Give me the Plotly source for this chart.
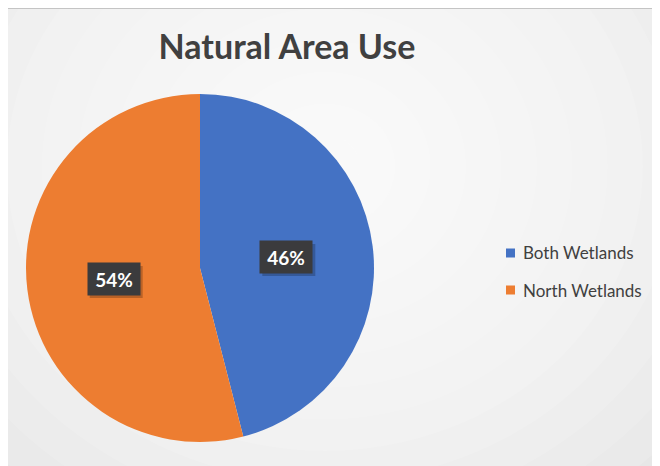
import math
import plotly.graph_objects as go

# Data
labels = ['Both Wetlands', 'North Wetlands']
values = [46, 54]
colors = ['#4472C4', '#ED7D31']
title_text = 'Natural Area Use'

W, H = 660, 466
OFF = 8  # page body margin, so page pixel p -> figure pixel p - OFF


def px(x):
    return (x - OFF) / W


def py(y):
    return 1 - (y - OFF) / H


cx, cy, r = 200, 268, 174  # pie centre / radius (page pixels)

fig = go.Figure()

fig.add_trace(go.Pie(
    labels=labels,
    values=values,
    sort=False,
    direction='clockwise',
    rotation=0,
    marker=dict(colors=colors, line=dict(width=0)),
    textinfo='none',
    hoverinfo='label+percent',
    showlegend=False,
    domain=dict(x=[px(cx - r), px(cx + r)], y=[py(cy + r), py(cy - r)]),
))

# background gradient: grey page with soft white glow in the middle
shapes = []
steps = 14
for i in range(steps):
    f = 1 - i / steps
    shapes.append(dict(
        type='circle', xref='paper', yref='paper', layer='below',
        x0=0.48 - 0.75 * f, x1=0.48 + 0.75 * f,
        y0=0.66 - 0.95 * f, y1=0.66 + 0.95 * f,
        fillcolor='rgba(255,255,255,0.13)', line=dict(width=0),
    ))
# frame lines
shapes.append(dict(type='line', xref='paper', yref='paper', x0=0, x1=px(655),
                   y0=1, y1=1, line=dict(color='#c4c4c4', width=2)))
shapes.append(dict(type='line', xref='paper', yref='paper', x0=px(655), x1=px(655),
                   y0=0, y1=1, line=dict(color='#d8d8d8', width=2)))

# legend drawn by hand to get the wide row spacing
annotations = []
for i, (lab, col) in enumerate(zip(labels, colors)):
    ly = 253 + 37 * i
    shapes.append(dict(type='rect', xref='paper', yref='paper',
                       x0=px(506), x1=px(515), y0=py(ly + 4.5), y1=py(ly - 4.5),
                       fillcolor=col, line=dict(width=0)))
    annotations.append(dict(
        x=px(521), y=py(ly), xref='paper', yref='paper', xanchor='left', yanchor='middle',
        text=lab, showarrow=False,
        font=dict(family='Lato', size=17, color='#404040'),
    ))

# percent labels in dark boxes, placed at the middle of each slice
total = sum(values)
start = 0
for v in values:
    mid = (start + v / 2) / total * 2 * math.pi
    start += v
    lx = cx + 0.5 * r * math.sin(mid)
    ly = cy - 0.5 * r * math.cos(mid)
    # soft drop shadow behind the box
    shapes.append(dict(type='rect', xref='paper', yref='paper',
                       x0=px(lx - 24), x1=px(lx + 29), y0=py(ly + 19), y1=py(ly - 13),
                       fillcolor='rgba(0,0,0,0.22)', line=dict(width=0)))
    annotations.append(dict(
        x=px(lx), y=py(ly), xref='paper', yref='paper', showarrow=False,
        xanchor='center', yanchor='middle',
        text=f'<b>{round(v / total * 100)}%</b>',
        font=dict(family='Lato', size=19, color='white'),
        bgcolor='#3b3b3d', width=48, height=28, borderpad=2,
    ))

fig.update_layout(
    width=W, height=H,
    margin=dict(l=0, r=0, t=0, b=0),
    paper_bgcolor='#e4e4e4',
    plot_bgcolor='rgba(0,0,0,0)',
    title=dict(text=f'<b>{title_text}</b>', x=px(287), xanchor='center',
               y=py(47), yanchor='middle',
               font=dict(family='Lato', size=34, color='#404040')),
    showlegend=False,
    shapes=shapes,
    annotations=annotations,
)

fig.write_html('out.html')
